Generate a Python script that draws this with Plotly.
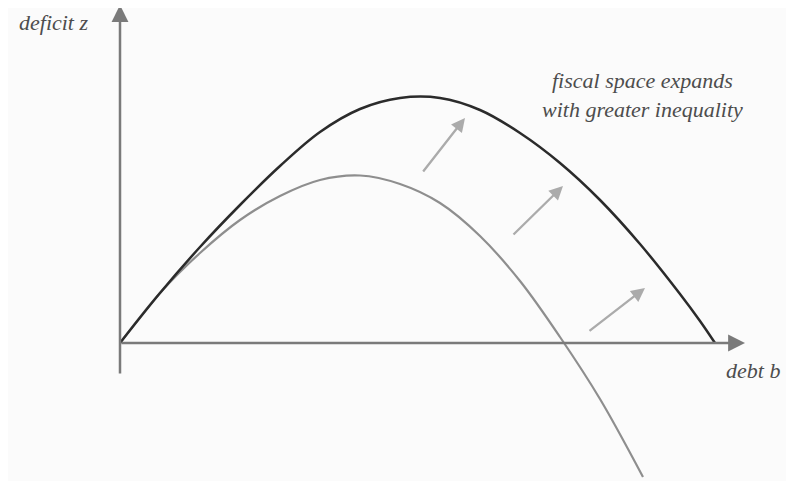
import plotly.graph_objects as go

# Dark curve (higher inequality) - debt b vs deficit z
dark_b = [0, 0.4, 0.8, 1.2, 1.6, 2.0, 2.4, 2.8, 3.2, 3.6, 4.0, 4.4, 4.8, 5.2, 5.6, 5.8, 5.95]
dark_z = [0, 0.50, 0.96, 1.38, 1.77, 2.11, 2.34, 2.45, 2.45, 2.33, 2.10, 1.80, 1.43, 0.99, 0.49, 0.22, 0]

# Gray curve (lower inequality)
gray_b = [0, 0.4, 0.8, 1.2, 1.6, 2.0, 2.4, 2.8, 3.2, 3.6, 4.0, 4.4, 4.8, 5.23]
gray_z = [0, 0.50, 0.90, 1.23, 1.47, 1.63, 1.675, 1.59, 1.40, 1.07, 0.62, 0.06, -0.56, -1.34]

# Shift arrows: tail (b, z) -> tip (b, z)
shift_tail_b = [3.02, 3.92, 4.68]
shift_tail_z = [1.70, 1.07, 0.11]
shift_tip_b = [3.45, 4.43, 5.25]
shift_tip_z = [2.25, 1.57, 0.55]

# Axis extents
x_axis_end = 6.25
y_axis_top = 3.38
y_axis_bottom = -0.32

label_y = "deficit z"
label_x = "debt b"
label_note = "fiscal space expands<br>with greater inequality"

FONT = "Liberation Serif"
TEXT_COL = "#4d4d4d"
AXIS_COL = "#7a7a7a"
BG = "#fbfbfb"

fig = go.Figure()

fig.add_trace(go.Scatter(x=gray_b, y=gray_z, mode="lines",
                         line=dict(color="#8e8e8e", width=2.2, shape="spline", smoothing=1.0),
                         hoverinfo="skip", showlegend=False))
fig.add_trace(go.Scatter(x=dark_b, y=dark_z, mode="lines",
                         line=dict(color="#2b2b2b", width=2.5, shape="spline", smoothing=1.0),
                         hoverinfo="skip", showlegend=False))

annotations = []
# axes with arrowheads
annotations.append(dict(x=x_axis_end, y=0, ax=0, ay=0, xref="x", yref="y", axref="x", ayref="y",
                        text="", showarrow=True, arrowhead=2, arrowsize=1.35, arrowwidth=2.5,
                        arrowcolor=AXIS_COL))
annotations.append(dict(x=0, y=y_axis_top, ax=0, ay=y_axis_bottom, xref="x", yref="y", axref="x", ayref="y",
                        text="", showarrow=True, arrowhead=2, arrowsize=1.35, arrowwidth=2.5,
                        arrowcolor=AXIS_COL))
for tb, tz, hb, hz in zip(shift_tail_b, shift_tail_z, shift_tip_b, shift_tip_z):
    annotations.append(dict(x=hb, y=hz, ax=tb, ay=tz, xref="x", yref="y", axref="x", ayref="y",
                            text="", showarrow=True, arrowhead=2, arrowsize=1.2, arrowwidth=2.3,
                            arrowcolor="#ababab"))

annotations.append(dict(x=-0.67, y=3.21, xref="x", yref="y", text="<i>" + label_y + "</i>",
                        showarrow=False, font=dict(family=FONT, size=22, color=TEXT_COL)))
annotations.append(dict(x=6.33, y=-0.27, xref="x", yref="y", text="<i>" + label_x + "</i>",
                        showarrow=False, font=dict(family=FONT, size=22, color=TEXT_COL)))
annotations.append(dict(x=5.22, y=2.48, xref="x", yref="y", text="<i>" + label_note + "</i>",
                        showarrow=False, align="center",
                        font=dict(family=FONT, size=22, color=TEXT_COL)))

# The page body has an 8px margin, so the figure is drawn 8px in from the top-left.
fig.update_layout(
    width=786, height=473,
    margin=dict(l=0, r=0, t=0, b=0),
    paper_bgcolor=BG, plot_bgcolor=BG,
    xaxis=dict(range=[-1.12, 6.74], visible=False, fixedrange=True),
    yaxis=dict(range=[-1.38, 3.35], visible=False, fixedrange=True),
    annotations=annotations,
    showlegend=False,
)

fig.write_html("out.html")
